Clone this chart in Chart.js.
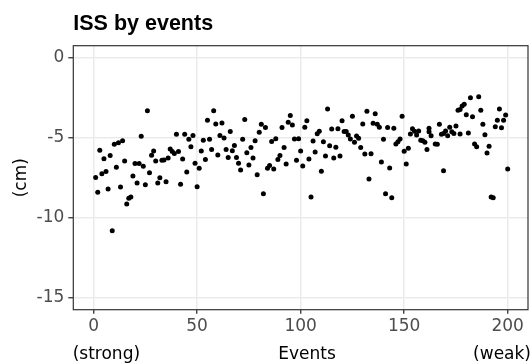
<!DOCTYPE html>
<html>
<head>
<meta charset="utf-8">
<script src="https://cdn.jsdelivr.net/npm/chart.js@4.4.1/dist/chart.umd.min.js"></script>
<style>
  html, body { margin: 0; padding: 0; background: #ffffff; }
  #div_grafico { width: 532px; height: 363px; }
</style>
</head>
<body>
<div id="div_grafico"><canvas id="grafico" width="532" height="363"></canvas></div>
<script>
// textos do gráfico
const chartTitle = "ISS by events";
const yTitle = "(cm)";
const xTitleLeft = "(strong)";
const xTitle = "Events";
const xTitleRight = "(weak)";

// ticks dos eixos
const xTicks = [0, 50, 100, 150, 200];
const yTicks = [-15, -10, -5, 0];

// eventos (eixo x) e ISS em cm (eixo y)
const events = [
  1, 2, 3, 4, 5, 6, 7, 8, 9, 10, 11, 12, 13, 14, 15, 16, 17, 18, 19, 20,
  21, 22, 23, 24, 25, 26, 27, 28, 29, 30, 31, 32, 33, 34, 35, 36, 37, 38,
  39, 40, 41, 42, 43, 44, 45, 46, 47, 48, 49, 50, 51, 52, 53, 54, 55, 56, 57, 58, 59, 60,
  61, 62, 63, 64, 65, 66, 67, 68, 69, 70, 71, 72, 73, 74, 75, 76, 77, 78, 79, 80,
  81, 82, 83, 84, 85, 86, 87, 88, 89, 90, 91, 92, 93, 94, 95, 96, 97, 98, 99, 100,
  101, 102, 103, 104, 105, 106, 107, 108, 109, 110, 111, 112, 113, 114, 115, 116, 117, 118, 119, 120, 121,
  122, 123, 124, 125, 126, 127, 128, 129, 130, 131, 132, 133, 134, 135, 136, 137, 138, 139, 140, 141,
  142, 143, 144, 145, 146, 147, 148, 149, 150, 151, 152, 153, 154, 155, 156, 157, 158, 159, 160, 161, 162,
  162, 163, 165, 166, 167, 168, 169, 169, 170, 171, 172, 173, 174, 175, 176, 177, 177, 178, 179, 180,
  181, 182, 183, 184, 185, 186, 187, 188, 189, 190, 191, 192, 193, 194, 195, 196, 197, 198, 199, 200
];
const issCm = [
  -7.48, -8.41, -5.79, -7.25, -6.31, -7.12, -8.21, -6.12, -10.81, -5.41, -6.85, -5.31, -8.08, -5.19, -6.46, -9.14, -8.79, -8.71, -7.39, -6.62,
  -7.83, -6.62, -4.91, -6.79, -7.94, -3.31, -7.19, -6.10, -5.83, -6.46, -7.83, -7.50, -6.41, -6.39, -7.75, -6.27, -5.71, -5.87,
  -5.98, -4.79, -5.87, -7.91, -6.33, -4.79, -7.14, -5.10, -5.56, -4.87, -6.60, -8.06, -6.91, -5.83, -5.16, -6.37, -3.91, -5.10, -5.73, -3.31,
  -4.14, -6.08, -4.87, -4.08, -5.02, -5.73, -6.23, -4.62, -5.81, -5.48, -6.23, -6.60, -7.02, -5.10, -3.87, -5.94, -6.71, -5.62, -6.27, -5.19, -7.31, -4.66,
  -4.16, -8.50, -4.37, -6.91, -6.73, -5.23, -6.96, -5.06, -6.37, -6.12, -4.37, -5.62, -6.64, -4.04, -3.62, -4.21, -5.08, -6.41, -5.06, -5.83,
  -6.77, -4.35, -3.94, -6.33, -8.71, -5.21, -5.89, -4.75, -4.60, -7.10, -5.25, -6.14, -3.21, -5.50, -4.46, -6.27, -5.60, -4.44, -6.14, -3.94, -4.62,
  -4.62, -4.83, -5.08, -3.66, -5.29, -4.89, -5.04, -5.62, -4.14, -6.02, -3.35, -7.58, -6.00, -4.10, -3.50, -4.16, -4.35, -6.52, -5.10, -8.50,
  -4.37, -6.89, -8.75, -4.41, -5.39, -5.25, -5.08, -3.66, -5.85, -6.64, -5.66, -4.77, -4.44, -4.60, -4.83, -4.58, -5.16, -5.19, -5.29, -5.73, -4.41,
  -4.63, -4.88, -5.39, -5.41, -4.16, -4.79, -4.73, -7.06, -4.58, -4.88, -4.35, -4.63, -4.73, -4.27, -3.29, -4.77, -3.23, -3.02, -2.91, -3.56,
  -4.71, -2.50, -3.69, -5.39, -5.56, -2.44, -3.29, -4.16, -4.81, -5.96, -5.54, -8.71, -8.75, -4.31, -3.91, -3.21, -4.38, -3.91, -3.58, -6.96
];

var pontos = [];
for (var i = 0; i < issCm.length; i++) {
  pontos.push({ x: events[i], y: issCm[i] });
}

// posição do painel (px)
const painel = { left: 73.3, right: 529.4, top: 45.7, bottom: 309.7 };
const fonteTicks = { family: "DejaVu Sans", size: 17 };

// borda do painel e textos (título, eixos)
const textos = {
  id: "textos",
  afterDraw: function (chart) {
    const ctx = chart.ctx, a = chart.chartArea;
    ctx.save();
    ctx.strokeStyle = "#333333";
    ctx.lineWidth = 1.2;
    ctx.strokeRect(a.left, a.top, a.right - a.left, a.bottom - a.top);

    ctx.fillStyle = "#000000";
    ctx.textBaseline = "alphabetic";
    ctx.textAlign = "left";
    ctx.font = 'bold 21.5px "Liberation Sans"';
    ctx.fillText(chartTitle, a.left, 30);

    ctx.font = '17px "DejaVu Sans"';
    ctx.fillText(xTitleLeft, 72.7, 359);
    ctx.textAlign = "center";
    ctx.fillText(xTitle, 307, 359);
    ctx.textAlign = "right";
    ctx.fillText(xTitleRight, 531, 359);

    ctx.translate(22, (a.top + a.bottom) / 2);
    ctx.rotate(-Math.PI / 2);
    ctx.textAlign = "center";
    ctx.textBaseline = "middle";
    ctx.fillText(yTitle, 0, 0);
    ctx.restore();
  }
};

var grafico = new Chart(document.getElementById("grafico"), {
  type: "scatter",
  data: {
    datasets: [{
      label: "ISS",
      data: pontos,
      pointRadius: 2.5,
      pointBackgroundColor: "#000000",
      pointBorderWidth: 0
    }]
  },
  options: {
    responsive: false,
    devicePixelRatio: 1,
    animation: false,
    layout: { padding: { top: painel.top, right: 532 - painel.right, left: 0, bottom: 0 } },
    plugins: { legend: { display: false }, tooltip: { enabled: false } },
    scales: {
      x: {
        type: "linear",
        min: -9.8,
        max: 209.8,
        afterBuildTicks: function (s) { s.ticks = xTicks.map(function (v) { return { value: v }; }); },
        afterFit: function (s) { s.height = 363 - painel.bottom; },
        border: { display: false },
        grid: { color: "#EBEBEB", lineWidth: 1.5, tickColor: "#333333", tickLength: 4, tickWidth: 1.3 },
        ticks: { font: fonteTicks, color: "#4D4D4D", padding: 3, maxRotation: 0, autoSkip: false }
      },
      y: {
        min: -15.75,
        max: 0.75,
        afterBuildTicks: function (s) { s.ticks = yTicks.map(function (v) { return { value: v }; }); },
        afterFit: function (s) { s.width = painel.left; },
        border: { display: false },
        grid: { color: "#EBEBEB", lineWidth: 1.5, tickColor: "#333333", tickLength: 5, tickWidth: 1.3 },
        ticks: { font: fonteTicks, color: "#4D4D4D", padding: 4, autoSkip: false }
      }
    }
  },
  plugins: [textos]
});
</script>
</body>
</html>
